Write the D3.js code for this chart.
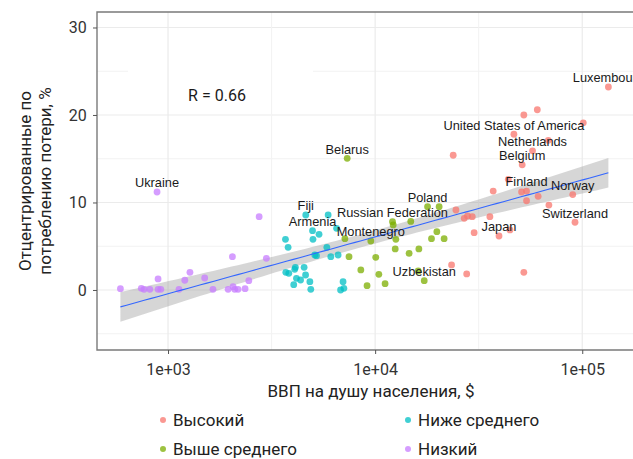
<!DOCTYPE html>
<html>
<head>
<meta charset="utf-8">
<script src="https://cdn.jsdelivr.net/npm/d3@7"></script>
<style>
  body { margin: 0; background: #fff; }
  svg { display: block; }
</style>
</head>
<body>
<svg id="chart" width="633" height="459"></svg>
<script>
// Группы дохода и цвета (порядок ggplot)
const groups = ["Высокий", "Выше среднего", "Ниже среднего", "Низкий"];
const groupColors = ["#F8766D", "#7CAE00", "#00BFC4", "#C77CFF"];

// Высокий доход
const highGdp = [133700, 52240, 60670, 101150, 46770, 68550, 23820, 57540, 51290, 43950,
  37150, 50930, 53830, 53830, 61240, 89950, 69020, 92260, 24550, 26920,
  27930, 29440, 35810, 30060, 39630, 44770, 23390, 27670, 52240];
const highLoss = [23.2, 20.0, 20.6, 19.1, 17.8, 17.1, 15.4, 15.9, 14.3, 12.65,
  11.3, 11.2, 11.3, 10.2, 10.7, 10.9, 9.7, 7.74, 9.14, 8.19,
  8.46, 8.38, 8.38, 6.55, 6.17, 6.86, 2.86, 1.83, 2.02];
const highName = ["Luxembourg", "", "", "", "United States of America", "", "", "Netherlands", "Belgium", "",
  "", "", "Finland", "", "", "Norway", "", "Switzerland", "", "",
  "", "", "", "", "Japan", "", "", "", ""];

// Выше среднего
const upperGdp = [7330, 7145, 7480, 8530, 9140, 9530, 10070, 10420, 11170, 12130,
  12220, 12590, 12500, 14590, 14860, 16260, 16140, 17260, 17910, 20370,
  19860, 18710, 21530];
const upperLoss = [15.05, 5.86, 3.81, 2.29, 0.49, 5.6, 3.73, 1.79, 0.72, 7.8,
  7.43, 5.79, 4.69, 4.19, 7.83, 4.69, 2.17, 1.06, 9.52, 9.52,
  6.66, 5.86, 5.86];
const upperName = ["Belarus", "", "", "", "", "Montenegro", "", "", "", "Russian Federation",
  "", "", "", "", "", "", "", "Uzbekistan", "Poland", "",
  "", "", ""];

// Ниже среднего
const lowerGdp = [3690, 3800, 3705, 3830, 4120, 4090, 4540, 4170, 4365, 4045,
  4615, 4840, 4890, 5010, 4985, 5360, 4625, 5930, 5845, 5115,
  5210, 6110, 6515, 6625, 6810, 7065, 7000];
const lowerLoss = [5.79, 4.88, 2.02, 1.9, 2.59, 2.36, 2.59, 1.33, 1.14, 0.61,
  1.71, 0.95, 0.08, 5.79, 6.78, 6.36, 8.57, 8.57, 4.88, 4.0,
  3.92, 3.81, 7.05, 4.0, 0.0, 0.19, 0.95];
const lowerName = ["", "", "", "", "", "", "", "", "", "",
  "", "", "", "", "Armenia", "", "Fiji", "", "", "",
  "", "", "", "", "", "", ""];

// Низкий
const lowGdp = [589, 743, 766, 817, 895, 895, 923, 1130, 1205, 1276,
  1503, 1648, 1950, 2046, 2061, 2099, 2178, 2355, 2455, 2985,
  885, 2754];
const lowLoss = [0.15, 0.19, 0.08, 0.08, 1.26, 0.08, 0.08, 0.08, 1.11, 2.02,
  1.37, 0.08, 0.08, 3.81, 0.38, 0.08, 0.08, 0.15, 1.06, 3.62,
  11.2, 8.38];
const lowName = ["", "", "", "", "", "", "", "", "", "",
  "", "", "", "", "", "", "", "", "", "",
  "Ukraine", ""];

const xTicks = [1e3, 1e4, 1e5];
const xTickLabels = ["1e+03", "1e+04", "1e+05"];
const yTicks = [0, 10, 20, 30];
const rLabel = "R = 0.66";

// Сборка таблицы точек
const series = [
  [highGdp, highLoss, highName],
  [upperGdp, upperLoss, upperName],
  [lowerGdp, lowerLoss, lowerName],
  [lowGdp, lowLoss, lowName]
];
const points = [];
series.forEach((s, g) => {
  s[0].forEach((v, i) => {
    points.push({ gdp: v, loss: s[1][i], name: s[2][i], group: g });
  });
});

const svg = d3.select("#chart");
const axisFont = "Roboto, 'Noto Sans', sans-serif";

const x = d3.scaleLog().domain([454, 200900]).range([97, 645]);
const y = d3.scaleLinear().domain([-6.86, 31.77]).range([350, 12]);

const color = d3.scaleOrdinal().domain(d3.range(4)).range(groupColors);

// Сетка
const grid = svg.append("g");
grid.selectAll(".hmin")
  .data([-5, 5, 15, 25])
  .join("line")
  .attr("x1", 97).attr("x2", 645)
  .attr("y1", d => y(d)).attr("y2", d => y(d))
  .style("stroke", "#f2f2f2").style("stroke-width", 1);
grid.selectAll(".hmaj")
  .data(yTicks)
  .join("line")
  .attr("x1", 97).attr("x2", 645)
  .attr("y1", d => y(d)).attr("y2", d => y(d))
  .style("stroke", "#ebebeb").style("stroke-width", 1.2);

// белая подложка подписи R
grid.append("rect")
  .attr("x", 128).attr("y", y(25) - 2)
  .attr("width", 185).attr("height", 4)
  .style("fill", "white");

grid.selectAll(".vmin")
  .data([Math.pow(10, 3.5), Math.pow(10, 4.5)])
  .join("line")
  .attr("x1", d => x(d)).attr("x2", d => x(d))
  .attr("y1", 12).attr("y2", 350)
  .style("stroke", "#f2f2f2").style("stroke-width", 1);
grid.selectAll(".vmaj")
  .data(xTicks)
  .join("line")
  .attr("x1", d => x(d)).attr("x2", d => x(d))
  .attr("y1", 12).attr("y2", 350)
  .style("stroke", "#ebebeb").style("stroke-width", 1.2);

// Регрессия на log10(ВВП)
const lx = points.map(p => Math.log10(p.gdp));
const ly = points.map(p => p.loss);
const n = points.length;
const mx = d3.mean(lx), my = d3.mean(ly);
let sxx = 0, sxy = 0;
lx.forEach((v, i) => { sxx += (v - mx) * (v - mx); sxy += (v - mx) * (ly[i] - my); });
const slope = sxy / sxx;
const icpt = my - slope * mx;
let sse = 0;
lx.forEach((v, i) => { const r = ly[i] - (icpt + slope * v); sse += r * r; });
const sres = Math.sqrt(sse / (n - 2));
const tval = 1.984;
const [lmin, lmax] = d3.extent(lx);
const fit = d3.range(80).map(i => {
  const lv = lmin + (lmax - lmin) * i / 79;
  const yh = icpt + slope * lv;
  const se = sres * Math.sqrt(1 / n + (lv - mx) * (lv - mx) / sxx);
  return { gdp: Math.pow(10, lv), fit: yh, lo: yh - tval * se, hi: yh + tval * se };
});

svg.append("path")
  .datum(fit)
  .attr("d", d3.area()
    .x(d => x(d.gdp))
    .y0(d => y(d.lo))
    .y1(d => y(d.hi)))
  .style("fill", "#999999")
  .style("opacity", 0.4);

// Точки
svg.append("g")
  .selectAll("circle")
  .data(points)
  .join("circle")
  .attr("cx", d => x(d.gdp))
  .attr("cy", d => y(d.loss))
  .attr("r", 3.4)
  .style("fill", d => color(d.group))
  .style("opacity", 0.75);

svg.append("path")
  .datum(fit)
  .attr("d", d3.line().x(d => x(d.gdp)).y(d => y(d.fit)))
  .style("fill", "none")
  .style("stroke", "#3366FF")
  .style("stroke-width", 1.1);

// Подписи стран
svg.append("g")
  .selectAll("text")
  .data(points.filter(p => p.name))
  .join("text")
  .attr("x", d => x(d.gdp))
  .attr("y", d => y(d.loss) - 4.7)
  .attr("text-anchor", "middle")
  .style("font-family", "'Liberation Sans', Arial, sans-serif")
  .style("font-size", "12.8px")
  .style("fill", "#1a1a1a")
  .text(d => d.name);

svg.append("text")
  .attr("x", 217).attr("y", 100.5)
  .attr("text-anchor", "middle")
  .style("font-family", axisFont)
  .style("font-size", "16px")
  .style("fill", "#1a1a1a")
  .text(rLabel);

// Рамка панели
svg.append("path")
  .attr("d", "M645,12H97V350H645")
  .style("fill", "none")
  .style("stroke", "#7a7a7a")
  .style("stroke-width", 1.4);

// Оси
const xAxis = svg.append("g")
  .attr("transform", "translate(0,350)")
  .call(d3.axisBottom(x).tickValues(xTicks).tickFormat((d, i) => xTickLabels[i]).tickSizeOuter(0).tickSize(4));
const yAxis = svg.append("g")
  .attr("transform", "translate(97,0)")
  .call(d3.axisLeft(y).tickValues(yTicks).tickSizeOuter(0).tickSize(4));
[xAxis, yAxis].forEach(a => {
  a.select(".domain").remove();
  a.selectAll("line").style("stroke", "#555");
  a.selectAll("text")
    .style("font-family", axisFont)
    .style("font-size", "16px")
    .style("fill", "#333");
});
xAxis.selectAll("text").attr("dy", "1.1em");
yAxis.selectAll("text").attr("dx", "-0.2em");

// Заголовки осей
svg.append("text")
  .attr("x", 371).attr("y", 397)
  .attr("text-anchor", "middle")
  .style("font-family", axisFont)
  .style("font-size", "17px")
  .style("fill", "#222")
  .text("ВВП на душу населения, $");

const yTitle = svg.append("text")
  .attr("transform", "translate(0,181) rotate(-90)")
  .attr("text-anchor", "middle")
  .style("font-family", axisFont)
  .style("font-size", "17px")
  .style("fill", "#222");
yTitle.append("tspan").attr("x", 0).attr("y", 31).text("Отцентрированные по");
yTitle.append("tspan").attr("x", 0).attr("y", 51).text("потреблению потери, %");

// Легенда
const legendPos = [[163, 420], [163, 449], [408, 420], [408, 449]];
const legend = svg.append("g")
  .selectAll("g")
  .data(groups)
  .join("g")
  .attr("transform", (d, i) => `translate(${legendPos[i][0]},${legendPos[i][1]})`);
legend.append("circle")
  .attr("r", 3)
  .style("fill", (d, i) => groupColors[i])
  .style("opacity", 0.75);
legend.append("text")
  .attr("x", 10)
  .attr("y", 6)
  .style("font-family", axisFont)
  .style("font-size", "17px")
  .style("fill", "#222")
  .text(d => d);
</script>
</body>
</html>
